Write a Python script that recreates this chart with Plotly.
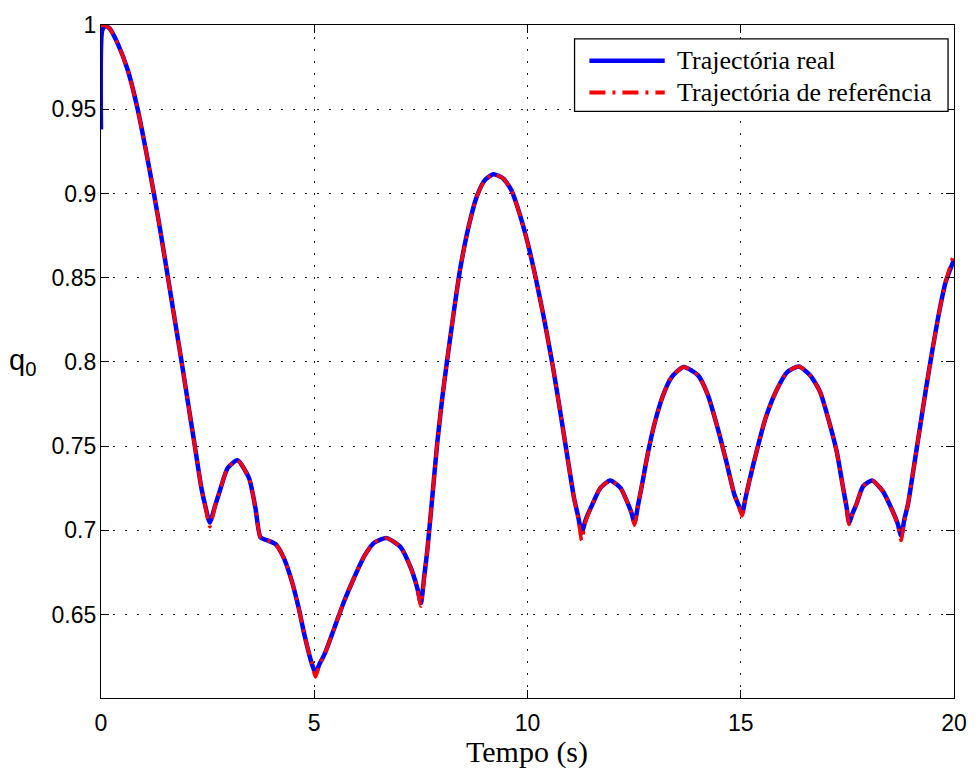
import plotly.graph_objects as go

# Time samples (s)
time_s = [0.00, 0.03, 0.10, 0.20, 0.40, 0.63, 0.86, 1.05, 1.24, 1.41, 1.57, 1.73, 1.89, 2.045, 2.20,
          2.355, 2.45, 2.55, 2.68, 2.78, 2.97, 3.20, 3.47, 3.62, 3.74, 3.89, 4.09, 4.28, 4.47, 4.63,
          4.78, 4.94, 5.03, 5.12, 5.25, 5.48, 5.71, 5.94, 6.18, 6.41, 6.70, 7.03, 7.26, 7.41, 7.50,
          7.58, 7.65, 7.76, 7.88, 8.00, 8.11, 8.27, 8.42, 8.62, 8.81, 9.00, 9.20, 9.43, 9.62, 9.81,
          10.01, 10.20, 10.39, 10.59, 10.78, 10.94, 11.09, 11.19, 11.27, 11.36, 11.52, 11.71, 11.94,
          12.18, 12.33, 12.43, 12.51, 12.59, 12.68, 12.83, 12.99, 13.18, 13.38, 13.66, 14.00, 14.23,
          14.46, 14.66, 14.85, 14.95, 15.03, 15.11, 15.20, 15.39, 15.58, 15.82, 16.09, 16.36, 16.63,
          16.86, 17.05, 17.25, 17.40, 17.48, 17.54, 17.62, 17.71, 17.87, 18.08, 18.33, 18.56, 18.68,
          18.76, 18.84, 18.92, 19.07, 19.18, 19.34, 19.49, 19.65, 19.80, 20.00]

# Reference quaternion scalar part q0
q0_ref = [1.000, 0.9999, 0.9995, 0.998, 0.9885, 0.973, 0.950, 0.926, 0.900, 0.875, 0.850, 0.825, 0.800, 0.775, 0.750,
          0.725, 0.7135, 0.7022, 0.7148, 0.723, 0.737, 0.7416, 0.7311, 0.7134, 0.6958, 0.6942, 0.6919, 0.684, 0.6702, 0.6545,
          0.6368, 0.6211, 0.6129, 0.6201, 0.627, 0.6427, 0.6585, 0.6722, 0.685, 0.6928, 0.6954, 0.6899, 0.678, 0.6663, 0.6550,
          0.672, 0.688, 0.7174, 0.7508, 0.7783, 0.7999, 0.8293, 0.8549, 0.8804, 0.8981, 0.9079, 0.9114, 0.9089, 0.902, 0.8883,
          0.8700, 0.849, 0.8254, 0.798, 0.7685, 0.7429, 0.7193, 0.707, 0.6940, 0.705, 0.7154, 0.7252, 0.7296,
          0.7252, 0.7174, 0.711, 0.7030, 0.7145, 0.7265, 0.7468, 0.7645, 0.7803, 0.791, 0.797, 0.792, 0.7803,
          0.7606, 0.741, 0.7213, 0.7145, 0.7085, 0.7185, 0.7292, 0.7488, 0.7665, 0.7822, 0.794, 0.7973, 0.792,
          0.7822, 0.7665, 0.7468, 0.7252, 0.7135, 0.7035, 0.7095, 0.7154, 0.7262, 0.7296, 0.7233, 0.7115, 0.7035,
          0.6940, 0.706, 0.7154, 0.7395, 0.7575, 0.7835, 0.8065, 0.8293, 0.847, 0.8647]

# Measured (real) quaternion scalar part q0
q0_real = [0.938, 0.997, 0.9995, 0.998, 0.9885, 0.973, 0.950, 0.926, 0.900, 0.875, 0.850, 0.825, 0.800, 0.775, 0.750,
           0.725, 0.7140, 0.7047, 0.7150, 0.723, 0.737, 0.7416, 0.7311, 0.7134, 0.6958, 0.6942, 0.6919, 0.684, 0.6702, 0.6545,
           0.6368, 0.6211, 0.6153, 0.6205, 0.627, 0.6427, 0.6585, 0.6722, 0.685, 0.6928, 0.6954, 0.6899, 0.678, 0.6663, 0.6568,
           0.673, 0.688, 0.7174, 0.7508, 0.7783, 0.7999, 0.8293, 0.8549, 0.8804, 0.8981, 0.9079, 0.9114, 0.9089, 0.902, 0.8883,
           0.8700, 0.849, 0.8254, 0.798, 0.7685, 0.7429, 0.7193, 0.708, 0.6985, 0.706, 0.7154, 0.7252, 0.7296,
           0.7252, 0.7174, 0.711, 0.7046, 0.7148, 0.7265, 0.7468, 0.7645, 0.7803, 0.791, 0.797, 0.792, 0.7803,
           0.7606, 0.741, 0.7213, 0.7150, 0.7099, 0.7190, 0.7292, 0.7488, 0.7665, 0.7822, 0.794, 0.7973, 0.792,
           0.7822, 0.7665, 0.7468, 0.7252, 0.7140, 0.7046, 0.7100, 0.7154, 0.7262, 0.7296, 0.7233, 0.7115, 0.7040,
           0.6968, 0.707, 0.7154, 0.7395, 0.7575, 0.7835, 0.8065, 0.8293, 0.847, 0.8607]

x_ticks = [0, 5, 10, 15, 20]
y_ticks = [0.65, 0.7, 0.75, 0.8, 0.85, 0.9, 0.95, 1.0]
y_tick_text = ["0.65", "0.7", "0.75", "0.8", "0.85", "0.9", "0.95", "1"]

series_names = ["Trajectória real", "Trajectória de referência"]
BLUE = "#0000ff"
RED = "#ff0000"
RED_DASH = "16px,7px,3px,7px"

W, H = 979, 771
ML, MR, MT, MB = 101, 17, 20, 73
PW, PH = W - ML - MR, H - MT - MB


def px_to_paper(px, py):
    return (px - ML) / PW, (H - MB - py) / PH


fig = go.Figure()
fig.add_trace(go.Scatter(x=time_s, y=q0_real, mode="lines", name=series_names[0],
                         line=dict(color=BLUE, width=4.5, shape="spline", smoothing=0.6),
                         showlegend=False))
fig.add_trace(go.Scatter(x=time_s, y=q0_ref, mode="lines", name=series_names[1],
                         line=dict(color=RED, width=3.5, dash=RED_DASH, shape="spline", smoothing=0.6),
                         showlegend=False))

axis_common = dict(
    showline=True, linecolor="black", linewidth=1.3, mirror="ticks",
    ticks="inside", ticklen=8, tickwidth=1, tickcolor="black",
    showgrid=True, gridcolor="#222222", gridwidth=1, griddash="2px,10px",
    zeroline=False,
    tickfont=dict(family="Liberation Sans, Arial, sans-serif", size=23, color="black"),
)

fig.update_xaxes(range=[0, 20], tickvals=x_ticks, ticktext=[str(v) for v in x_ticks],
                 ticklabelstandoff=4, **axis_common)
fig.update_yaxes(range=[0.6005, 1.0], tickvals=y_ticks, ticktext=y_tick_text,
                 ticklabelstandoff=-1, **axis_common)

# Custom legend box in the upper-right corner
bx0, by0 = px_to_paper(579, 34)
bx1, by1 = px_to_paper(956, 107)
shapes = [dict(type="rect", xref="paper", yref="paper", x0=bx0, y0=by1, x1=bx1, y1=by0,
               line=dict(color="black", width=1.3), fillcolor="white", layer="above")]
rows_py = [56, 88]
styles = [dict(color=BLUE, width=4.5), dict(color=RED, width=4, dash=RED_DASH)]
annotations = []
for name, py, st in zip(series_names, rows_py, styles):
    sx0, sy = px_to_paper(594, py)
    sx1, _ = px_to_paper(670, py)
    shapes.append(dict(type="line", xref="paper", yref="paper", x0=sx0, x1=sx1, y0=sy, y1=sy,
                       line=st, layer="above"))
    tx, _ = px_to_paper(680, py)
    annotations.append(dict(xref="paper", yref="paper", x=tx, y=sy, xanchor="left", yanchor="middle",
                            text=name, showarrow=False,
                            font=dict(family="Liberation Serif, Times New Roman, serif", size=26, color="black")))

# Axis labels
lx, ly = px_to_paper(531, 752)
annotations.append(dict(xref="paper", yref="paper", x=lx, y=ly, xanchor="center", yanchor="middle",
                        text="Tempo (s)", showarrow=False,
                        font=dict(family="Liberation Serif, Times New Roman, serif", size=30, color="black")))
qx, qy = px_to_paper(22, 360)
annotations.append(dict(xref="paper", yref="paper", x=qx, y=qy, xanchor="center", yanchor="middle",
                        text="q<sub>0</sub>", showarrow=False,
                        font=dict(family="Liberation Sans, Arial, sans-serif", size=29, color="black")))

fig.update_layout(
    width=W, height=H,
    margin=dict(l=ML, r=MR, t=MT, b=MB, pad=0),
    paper_bgcolor="white", plot_bgcolor="white",
    shapes=shapes, annotations=annotations,
    showlegend=False,
)

fig.write_html("out.html")
